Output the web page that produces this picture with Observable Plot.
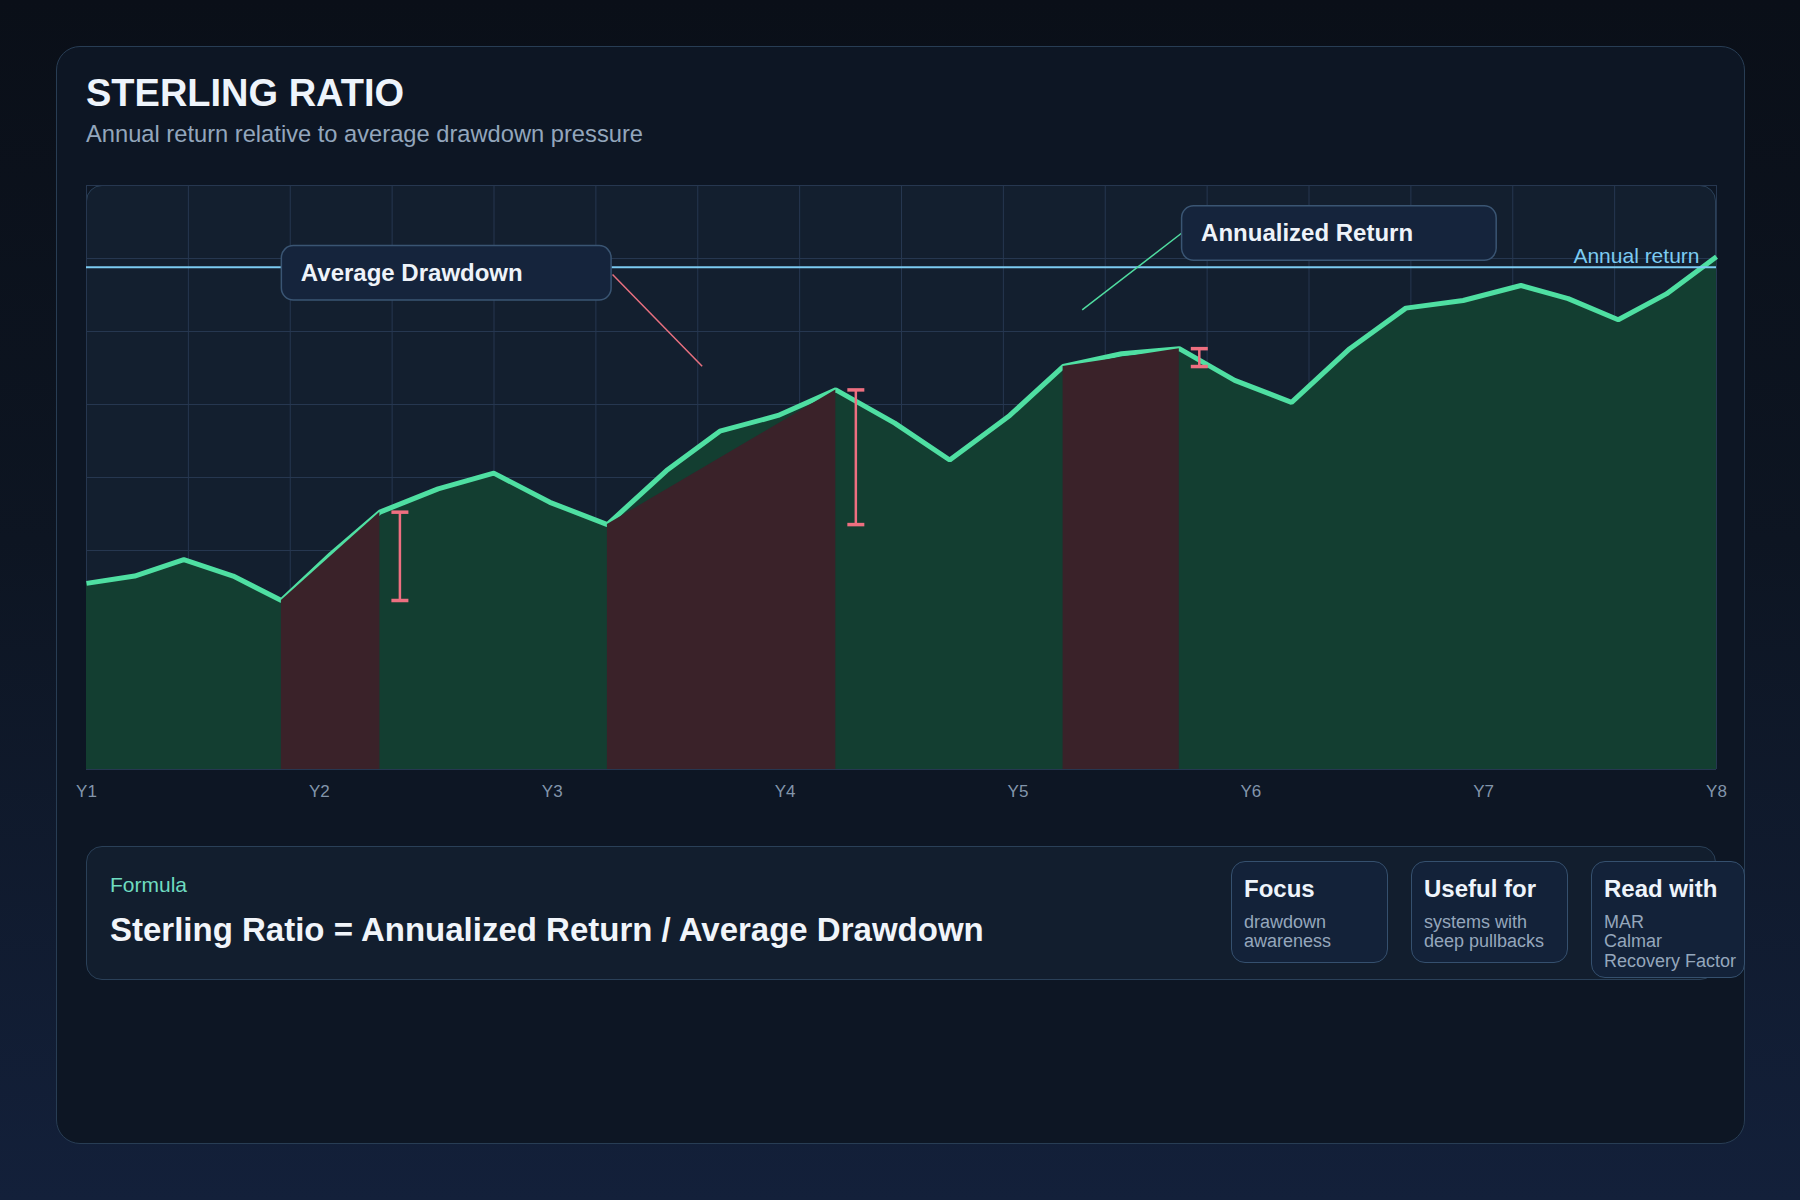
<!DOCTYPE html>
<html>
<head>
<meta charset="utf-8">
<script src="https://cdn.jsdelivr.net/npm/d3@7"></script>
<script src="https://cdn.jsdelivr.net/npm/@observablehq/plot@0.6"></script>
<style>
  html, body { margin: 0; padding: 0; }
  body {
    width: 1800px; height: 1200px; position: relative; overflow: hidden;
    background: linear-gradient(180deg, #0a0f18 0%, #0d1522 45%, #13203a 100%);
    font-family: "Liberation Sans", Arial, Helvetica, sans-serif;
  }
  .abs { position: absolute; }
  #card {
    left: 56px; top: 46px; width: 1689px; height: 1098px; box-sizing: border-box;
    border: 1.5px solid #283d54; border-radius: 24px; background: #0d1624;
  }
  #title { left: 86px; top: 75px; font-size: 38px; line-height: 37px; font-weight: 700; color: #eef4fb; }
  #subtitle { left: 86px; top: 123px; font-size: 23.7px; line-height: 23px; color: #93a6bc; }
  #panel {
    left: 86px; top: 185px; width: 1630px; height: 585px; box-sizing: border-box;
    border: 1.5px solid #2a4058; border-radius: 16px; background: #131f2f;
  }
  #chart { left: 56px; top: 175px; }
  #formula {
    left: 86px; top: 846px; width: 1630px; height: 134px; box-sizing: border-box;
    border: 1.5px solid #2a4058; border-radius: 16px; background: #121e2e;
  }
  #flabel { left: 110px; top: 874px; font-size: 21px; line-height: 21px; color: #6fdcc0; }
  #ftext { left: 110px; top: 913px; font-size: 33px; line-height: 33px; font-weight: 700; color: #f1f5fa; }
  .info {
    position: absolute; top: 861px; box-sizing: border-box; padding: 15px 11px 0 12px;
    border: 1.5px solid #35506e; border-radius: 14px; background: #132239;
  }
  .info .h { font-size: 24px; line-height: 24px; font-weight: 700; color: #eef4fb; white-space: nowrap; }
  .info .b { margin-top: 12px; font-size: 18px; line-height: 19.3px; color: #95a7bc; white-space: nowrap; }
</style>
</head>
<body>
<div id="card" class="abs"></div>
<div id="title" class="abs">STERLING RATIO</div>
<div id="subtitle" class="abs">Annual return relative to average drawdown pressure</div>
<div id="panel" class="abs"></div>
<div id="chart" class="abs"></div>
<div id="formula" class="abs"></div>
<div id="flabel" class="abs">Formula</div>
<div id="ftext" class="abs">Sterling Ratio = Annualized Return / Average Drawdown</div>
<div id="cards"></div>
<script>
// ---------- data ----------
const yearLabels = ["Y1", "Y2", "Y3", "Y4", "Y5", "Y6", "Y7", "Y8"];
const periods = [0, 0.207, 0.418, 0.630, 0.837, 1.050, 1.260, 1.510, 1.749, 1.990, 2.237,
  2.491, 2.720, 2.970, 3.218, 3.471, 3.707, 3.965, 4.194, 4.445, 4.693, 4.931, 5.175,
  5.425, 5.666, 5.912, 6.160, 6.363, 6.578, 6.785, 7.0];
const equity = [51.0, 53.0, 57.5, 53.0, 46.3, 59.0, 70.5, 76.9, 81.2, 73.2, 67.1,
  81.9, 92.7, 97.0, 104.0, 94.9, 84.8, 97.0, 110.4, 113.9, 115.3, 106.6, 100.6,
  115.3, 126.4, 128.5, 132.6, 129.0, 123.2, 130.3, 140.5];
const windowStart = [0.837, 2.237, 4.194];
const windowEnd = [1.260, 3.218, 4.693];
const annualReturn = 137.6;
const annualLabel = "Annual return";

const calloutLabels = ["Average Drawdown", "Annualized Return"];
const calloutLeft = [0.839, 4.705];
const calloutRight = [2.255, 6.056];
const calloutTop = [143.4, 154.3];
const calloutBottom = [128.5, 139.4];
const connectorFrom = [[2.259, 135.6], [4.708, 147.2]];
const connectorTo = [[2.644, 110.5], [4.276, 125.9]];
const connectorColors = ["#e8707f", "#4fdca0"];

const cardTitles = ["Focus", "Useful for", "Read with"];
const cardLines = [["drawdown", "awareness"], ["systems with", "deep pullbacks"], ["MAR", "Calmar", "Recovery Factor"]];

// ---------- tables ----------
const series = periods.map((t, i) => ({t, v: equity[i]}));
const valueAt = (t) => series.find(d => Math.abs(d.t - t) < 1e-6).v;
const windows = windowStart.map((s, i) => ({id: i, s, e: windowEnd[i], vs: valueAt(s), ve: valueAt(windowEnd[i])}));
const windowPts = windows.flatMap(w => [{id: w.id, t: w.s, v: w.vs}, {id: w.id, t: w.e, v: w.ve}]);
const caps = windows.flatMap(w => [{t: w.e, v: w.vs}, {t: w.e, v: w.ve}]);
const callouts = calloutLabels.map((label, i) => ({label, x1: calloutLeft[i], x2: calloutRight[i], y1: calloutTop[i], y2: calloutBottom[i]}));
const connectors = connectorFrom.map((f, i) => ({x1: f[0], y1: f[1], x2: connectorTo[i][0], y2: connectorTo[i][1], c: connectorColors[i]}));

const capSymbol = {draw(context, size) { const r = Math.sqrt(size / Math.PI); context.moveTo(-r, 0); context.lineTo(r, 0); }};

const chart = Plot.plot({
  width: 1690, height: 634,
  marginLeft: 30, marginRight: 30, marginTop: 10, marginBottom: 40,
  x: {domain: [0, 7]},
  y: {domain: [0, 160], axis: null},
  style: {background: "transparent", color: "#8295ab", fontSize: "17px", fontFamily: "'Liberation Sans', Arial, Helvetica, sans-serif", overflow: "visible"},
  marks: [
    Plot.gridX(d3.range(17).map(k => 7 * k / 16), {stroke: "#263750", strokeOpacity: 1, strokeWidth: 1}),
    Plot.gridY(d3.range(0, 161, 20), {stroke: "#263750", strokeOpacity: 1, strokeWidth: 1}),
    Plot.areaY(series, {x: "t", y: "v", fill: "#133e31", fillOpacity: 1}),
    Plot.lineY(series, {x: "t", y: "v", stroke: "#4fdfa2", strokeWidth: 5, strokeLinejoin: "miter", strokeLinecap: "butt"}),
    Plot.areaY(windowPts, {x: "t", y: "v", z: "id", fill: "#3a2229", fillOpacity: 1}),
    Plot.ruleX(windows, {x: "e", y1: "vs", y2: "ve", dx: 20, stroke: "#ee6f80", strokeWidth: 2.5}),
    Plot.dot(caps, {x: "t", y: "v", dx: 20, r: 8.5, symbol: capSymbol, stroke: "#ee6f80", strokeWidth: 3.5, fill: "none"}),
    Plot.ruleY([annualReturn], {stroke: "#7ccbf2", strokeWidth: 2}),
    Plot.text([annualReturn], {x: 7, y: d => d, text: () => annualLabel, textAnchor: "end", lineAnchor: "bottom", dx: -17, dy: -4, fill: "#7ccbf2", fontSize: 21}),
    Plot.link(connectors, {x1: "x1", y1: "y1", x2: "x2", y2: "y2", stroke: "c", strokeWidth: 1.5}),
    Plot.rect(callouts, {x1: "x1", x2: "x2", y1: "y1", y2: "y2", rx: 12, fill: "#15243c", stroke: "#3a5573", strokeWidth: 1.5}),
    Plot.text(callouts, {x: "x1", y: d => (d.y1 + d.y2) / 2, text: "label", textAnchor: "start", dx: 19, fontSize: 24, fontWeight: 700, fill: "#eef3f9"}),
    Plot.axisX(d3.range(8), {tickFormat: i => yearLabels[i], tickSize: 0, tickPadding: 15, fontSize: 17, fill: "#8295ab"})
  ]
});
document.getElementById("chart").appendChild(chart);

// info cards
const cardLeft = [1231, 1411, 1591];
const cardWidth = [157, 157, 154];
const cardHeight = [102, 102, 117];
const holder = document.getElementById("cards");
cardTitles.forEach((t, i) => {
  const el = document.createElement("div");
  el.className = "info";
  el.style.left = cardLeft[i] + "px";
  el.style.width = cardWidth[i] + "px";
  el.style.height = cardHeight[i] + "px";
  const h = document.createElement("div"); h.className = "h"; h.textContent = t;
  const b = document.createElement("div"); b.className = "b"; b.innerHTML = cardLines[i].join("<br>");
  el.appendChild(h); el.appendChild(b);
  holder.appendChild(el);
});
</script>
</body>
</html>
